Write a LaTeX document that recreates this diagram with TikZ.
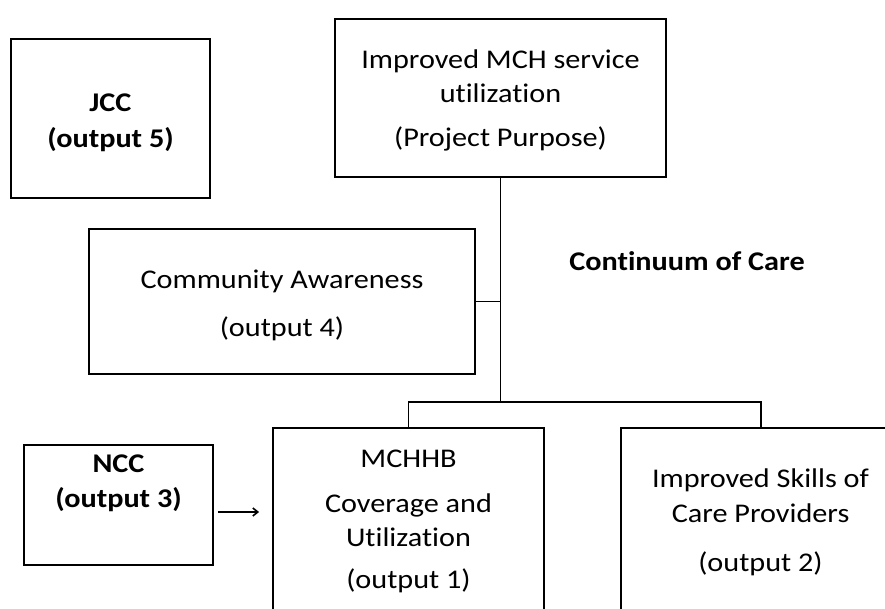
\documentclass[tikz,border=0pt]{standalone}
\usepackage{fontspec}
\setmainfont{Carlito}[FakeStretch=1.12,Ligatures=NoCommon]
\usetikzlibrary{arrows.meta}
\begin{document}
\begin{tikzpicture}[x=1pt,y=-1pt,
  box/.style={draw=black,line width=1.8pt,rectangle,inner sep=0pt},
  txt/.style={anchor=base,inner sep=0pt,font=\fontsize{27}{30}\selectfont},
  btxt/.style={txt,font=\fontsize{27}{30}\selectfont\bfseries},
  conn/.style={draw=black,line width=1.6pt}]
\useasboundingbox (0,0) rectangle (885,608);
\clip (0,0) rectangle (885,608);
% boxes
\node[box,minimum width=199pt,minimum height=159pt] (jcc) at (110.5,118.5) {};
\node[box,minimum width=331pt,minimum height=158pt] (top) at (500.5,98) {};
\node[box,minimum width=386pt,minimum height=145pt] (comm) at (282,301.5) {};
\node[box,minimum width=189pt,minimum height=120pt] (ncc) at (118.5,505) {};
\node[box,minimum width=271pt,minimum height=220pt] (mch) at (408.5,538) {};
\node[box,minimum width=280pt,minimum height=220pt] (skl) at (761,538) {};
% texts
\node[btxt] (t1) at (110.5,111) {JCC};
\node[btxt] (t2) at (110.5,147) {(output 5)};
\node[txt] (t3) at (500.5,68) {Improved MCH service};
\node[txt] (t4) at (500.5,102) {utilization};
\node[txt] (t5) at (500.5,146) {(Project Purpose)};
\node[txt] (t6) at (282,288) {Community Awareness};
\node[txt] (t7) at (282,336) {(output 4)};
\node[btxt] (t8) at (687,270) {Continuum of Care};
\node[btxt] (t9) at (118.5,472) {NCC};
\node[btxt] (t10) at (118.5,507) {(output 3)};
\node[txt] (t11) at (408.5,467) {MCHHB};
\node[txt] (t12) at (408.5,512) {Coverage and};
\node[txt] (t13) at (408.5,546) {Utilization};
\node[txt] (t14) at (408.5,588) {(output 1)};
\node[txt] (t15) at (760.5,487) {Improved Skills of};
\node[txt] (t16) at (760.5,522) {Care Providers};
\node[txt] (t17) at (760.5,571) {(output 2)};
% connectors
\coordinate (j) at (top.south |- 0,402);
\coordinate (ce) at (top.south |- comm.east);
\draw[conn] (top.south) -- (j);
\draw[conn] (comm.east) -- (ce);
\draw[conn] (mch.north) -- (mch.north |- j) -- (skl.north |- j) -- (skl.north);
\draw[line width=1.6pt,-{Straight Barb[length=5pt,width=8pt]}] ([xshift=4pt]ncc.east |- 0,512) -- ([xshift=-13pt]mch.west |- 0,512);
\end{tikzpicture}
\end{document}
